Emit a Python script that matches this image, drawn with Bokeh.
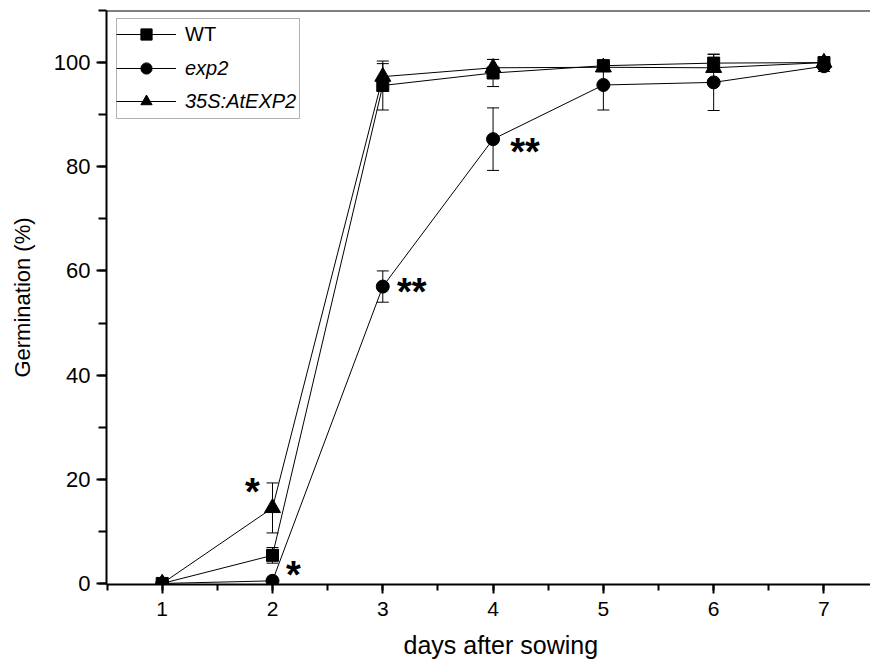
from bokeh.plotting import figure
from bokeh.models import (ColumnDataSource, Whisker, TeeHead, Span, Legend, LegendItem,
                          Title, SingleIntervalTicker, Range1d, BoxAnnotation)
from bokeh.core.properties import value
from bokeh.embed import file_html
from bokeh.resources import INLINE

# ---------------- data ----------------
days = [1, 2, 3, 4, 5, 6, 7]
wt = [0.0, 5.4, 95.6, 98.0, 99.4, 99.9, 100.0]
wt_err = [0.0, 1.5, 4.7, 2.6, 0.8, 1.7, 0.4]
exp2 = [0.0, 0.5, 57.0, 85.3, 95.7, 96.2, 99.3]
exp2_err = [0.0, 0.0, 3.0, 6.0, 4.8, 5.4, 1.0]
oe = [0.0, 14.5, 97.3, 99.0, 99.1, 99.0, 100.0]
oe_err = [0.0, 4.8, 2.5, 1.6, 0.8, 0.6, 0.4]

series_names = ["WT", "exp2", "35S:AtEXP2"]
x_title = "days after sowing"
y_title = "Germination (%)"

# significance marks: (series, day, text)
star_series = ["35S:AtEXP2", "exp2", "exp2", "exp2"]
star_days = [2, 2, 3, 4]
star_text = ["*", "*", "**", "**"]

FONT = "Liberation Sans"
Y_END = 110.0

p = figure(width=870, height=668,
           x_range=Range1d(0.495, 7.422), y_range=Range1d(-0.2, Y_END),
           output_backend="svg", toolbar_location=None,
           min_border_left=106, min_border_right=0, min_border_top=10, min_border_bottom=84)
p.outline_line_color = None
p.xgrid.visible = False
p.ygrid.visible = False
p.background_fill_color = "white"
p.border_fill_color = "white"

# axes
p.xaxis.ticker = SingleIntervalTicker(interval=1, num_minor_ticks=2)
p.yaxis.ticker = SingleIntervalTicker(interval=20, num_minor_ticks=2)
for ax in (p.xaxis[0], p.yaxis[0]):
    ax.axis_line_width = 2
    ax.axis_line_color = "black"
    ax.major_tick_line_width = 2
    ax.minor_tick_line_width = 2
    ax.major_tick_line_color = "black"
    ax.minor_tick_line_color = "black"
    ax.major_tick_in = 0
    ax.minor_tick_in = 0
    ax.major_label_text_font = FONT
    ax.major_label_text_color = "black"
    ax.axis_label_text_font = FONT
    ax.axis_label_text_font_style = "normal"
    ax.axis_label_text_color = "black"

p.xaxis.major_tick_out = 9
p.xaxis.minor_tick_out = 6
p.xaxis.major_label_standoff = 8
p.xaxis.major_label_text_font_size = "21px"

p.yaxis.major_tick_out = 10
p.yaxis.minor_tick_out = 8
p.yaxis.major_label_standoff = 6
p.yaxis.major_label_text_font_size = "22px"
p.yaxis.axis_label = y_title
p.yaxis.axis_label_text_font_size = "22px"
p.yaxis.axis_label_standoff = 16

# x-axis title below the axis, placed as in the original (whose frame is cropped)
p.add_layout(Title(text=x_title, align="left", offset=297, standoff=20,
                   text_font=FONT, text_font_size="25px", text_font_style="normal",
                   text_color="black"), "below")

# top border
p.add_layout(Span(location=Y_END, dimension="width", line_color="black", line_width=2))

series = [
    (series_names[0], wt, wt_err, "square", 12),
    (series_names[1], exp2, exp2_err, "circle", 13),
    (series_names[2], oe, oe_err, "triangle", 16),
]

values_by_name = {}
items = []
line_renderers = []
for name, vals, errs, marker, size in series:
    values_by_name[name] = vals
    src = ColumnDataSource(dict(x=days, y=vals))
    lr = p.line("x", "y", source=src, line_color="black", line_width=1)
    line_renderers.append((name, lr, src, marker, size))

for name, vals, errs, marker, size in series:
    ex = [d for d, e in zip(days, errs) if e > 0]
    up = [v + e for v, e in zip(vals, errs) if e > 0]
    lo = [v - e for v, e in zip(vals, errs) if e > 0]
    esrc = ColumnDataSource(dict(x=ex, upper=up, lower=lo))
    w = Whisker(base="x", upper="upper", lower="lower", source=esrc, dimension="height",
                line_color="black", line_width=1,
                upper_head=TeeHead(size=12, line_color="black", line_width=1),
                lower_head=TeeHead(size=12, line_color="black", line_width=1))
    p.add_layout(w)

for name, lr, src, marker, size in line_renderers:
    sr = p.scatter("x", "y", source=src, marker=marker, size=size,
                   fill_color="black", line_color="black")
    items.append(LegendItem(label=name, renderers=[lr, sr]))

# significance asterisks
star_y = [values_by_name[s][days.index(d)] for s, d in zip(star_series, star_days)]
star_dx = [-20, 21, 29, 32]
star_dy = [-16, -6, 5, 13]
ssrc = ColumnDataSource(dict(x=star_days, y=star_y, t=star_text, dx=star_dx, dy=star_dy))
p.text("x", "y", text="t", source=ssrc, x_offset="dx", y_offset="dy",
       text_font=value(FONT), text_font_size="38px", text_font_style="bold",
       text_align="center", text_baseline="alphabetic", text_color="black")

# legend: upright WT entry and italic gene entries, framed by one box
common = dict(orientation="vertical", glyph_width=60, glyph_height=28, label_height=28,
              spacing=5, padding=3, margin=0, label_standoff=9,
              label_text_font=FONT, label_text_font_size="20px", label_text_color="black",
              border_line_color=None, background_fill_alpha=0)
leg_a = Legend(items=items[:1], location=(10, 536), label_text_font_style="normal", **common)
leg_b = Legend(items=items[1:], location=(10, 469), label_text_font_style="italic", **common)
p.add_layout(leg_a)
p.add_layout(leg_b)
p.add_layout(BoxAnnotation(left=10, right=193, bottom=466, top=566,
                           left_units="screen", right_units="screen",
                           bottom_units="screen", top_units="screen",
                           fill_alpha=0, line_color="black", line_width=1))

open("out.html", "w").write(file_html(p, INLINE))
